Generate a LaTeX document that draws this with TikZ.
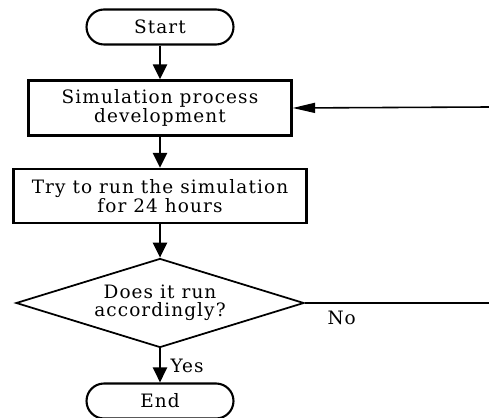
\documentclass[tikz,border=0pt]{standalone}
\usepackage{fontspec}
\setmainfont{DejaVu Serif}[LetterSpace=6]
\usetikzlibrary{shapes.geometric,arrows.meta}

\begin{document}
\begin{tikzpicture}[x=0.02cm,y=-0.02cm,
    every node/.style={font=\fontsize{10.5}{10.4}\selectfont,align=center},
    terminal/.style={draw,line width=1.2pt,rounded corners=0.35cm,minimum width=2.94cm,minimum height=0.7cm},
    process/.style={draw,line width=1.3pt,minimum height=1.1cm},
    decision/.style={draw,diamond,line width=1pt,inner sep=0pt,aspect=3,minimum width=5.76cm,minimum height=1.78cm},
    flow/.style={line width=1.3pt,-{Triangle[length=0.3cm,width=0.28cm]}},
    loop/.style={line width=0.9pt,-{Triangle[length=0.45cm,width=0.2cm]}}]
    \useasboundingbox (0,0) rectangle (489,418);
    \node[terminal] (start) at (160,27) {Start};
    \node[process,minimum width=5.26cm] (dev) at (160,108) {Simulation process\\development};
    \node[process,minimum width=5.86cm,minimum height=1.08cm] (run) at (160,196) {Try to run the simulation\\for 24 hours};
    \node[decision] (check) at (160,303) {Does it run\\accordingly?};
    \node[terminal] (end) at (160,401) {End};
    \coordinate (back) at (489,107);
    \coordinate (noend) at (489,303);
    \draw[flow] (start) -- (dev);
    \draw[flow] (dev) -- (run);
    \draw[flow] (run) -- (check);
    \draw[flow] (check) -- node[right,xshift=2pt] {Yes} (end);
    \draw[line width=0.9pt] (check.east) -- node[pos=0.2,below,yshift=-1pt] {No} (noend);
    \draw[loop] (back) -- (dev.east);
\end{tikzpicture}
\end{document}
